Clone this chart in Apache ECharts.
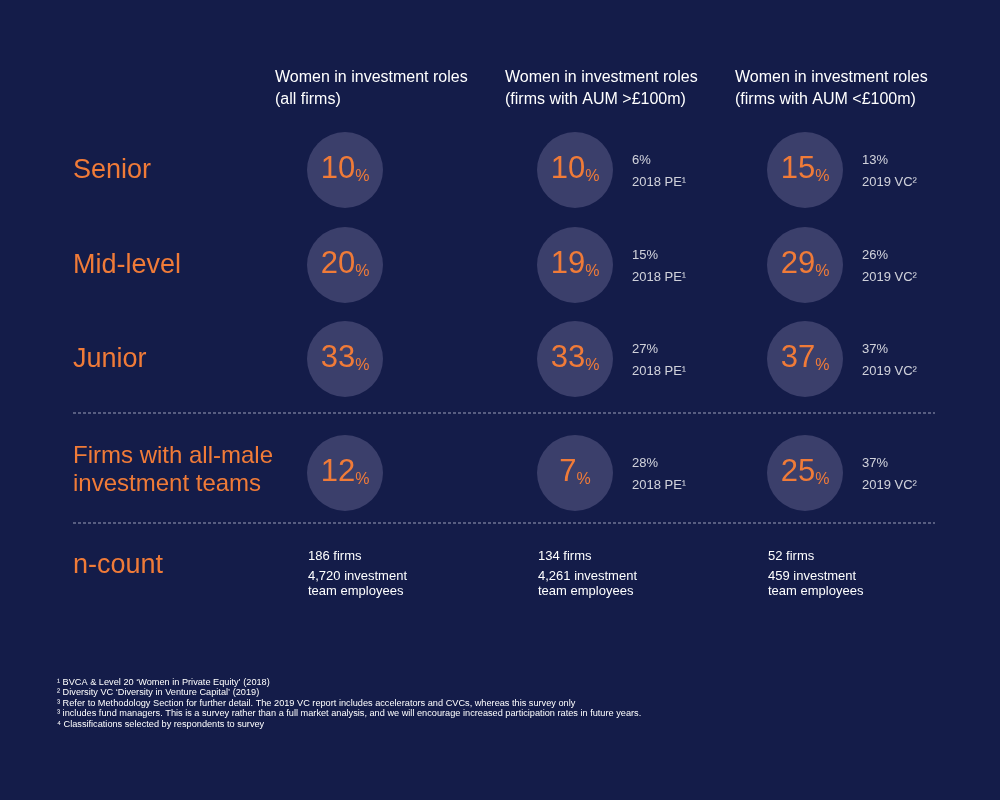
<!DOCTYPE html>
<html>
<head>
<meta charset="utf-8">
<script src="https://cdn.jsdelivr.net/npm/echarts@6/dist/echarts.min.js"></script>
<style>
  html, body { margin: 0; padding: 0; background: #141c49; }
  #chart { width: 1000px; height: 800px; }
</style>
</head>
<body>
<div id="chart"></div>
<script>
// column headers
var headerTitle = 'Women in investment roles';
var headerSub = ['(all firms)', '(firms with AUM >£100m)', '(firms with AUM <£100m)'];
// row labels
var rowLabels = ['Senior', 'Mid-level', 'Junior', 'Firms with all-male\ninvestment teams'];
// share of women (%) per row
var allFirms = [10, 20, 33, 12];
var aumAbove = [10, 19, 33, 7];
var aumBelow = [15, 29, 37, 25];
// benchmarks
var pe2018 = [6, 15, 27, 28];
var vc2019 = [13, 26, 37, 37];
// n-count
var firmCounts = [186, 134, 52];
var employeeCounts = ['4,720', '4,261', '459'];
var footnotes = [
  '\u00b9 BVCA & Level 20 \u2018Women in Private Equity\u2019 (2018)',
  '\u00b2 Diversity VC \u2018Diversity in Venture Capital\u2019 (2019)',
  '\u00b3 Refer to Methodology Section for further detail. The 2019 VC report includes accelerators and CVCs, whereas this survey only',
  '\u00b3 includes fund managers. This is a survey rather than a full market analysis, and we will encourage increased participation rates in future years.',
  '\u2074 Classifications selected by respondents to survey'
];

// layout
var colX = [345, 575, 805];
var rowY = [170, 265, 359, 473];
var ORANGE = '#f07b38';
var FONT = '"Liberation Sans", Arial, sans-serif';

var chart = echarts.init(document.getElementById('chart'));

var columns = [allFirms, aumAbove, aumBelow];
var circleData = [];
columns.forEach(function(col, c) {
  col.forEach(function(v, r) {
    circleData.push({ value: [colX[c], rowY[r], v] });
  });
});

// benchmark labels beside column 2 and 3
var benchData = [];
pe2018.forEach(function(v, r) {
  benchData.push({ value: [colX[1] + 57, rowY[r] + 1], label: { formatter: v + '%\n2018 PE\u00b9' } });
});
vc2019.forEach(function(v, r) {
  benchData.push({ value: [colX[2] + 57, rowY[r] + 1], label: { formatter: v + '%\n2019 VC\u00b2' } });
});

var graphics = [];
headerSub.forEach(function(sub, c) {
  graphics.push({
    type: 'text', left: colX[c] - 70, top: 67,
    style: { text: headerTitle + '\n' + sub, fill: '#ffffff', font: '16px ' + FONT, lineHeight: 22 }
  });
});
rowLabels.forEach(function(lbl, r) {
  var big = r < 3;
  graphics.push({
    type: 'text', x: 73, y: rowY[r] + (big ? 1 : -3),
    style: { text: lbl, fill: ORANGE, font: (big ? '27px ' : '24px ') + FONT, verticalAlign: 'middle', lineHeight: 28 }
  });
});
graphics.push({
  type: 'text', x: 73, y: 566,
  style: { text: 'n-count', fill: ORANGE, font: '27px ' + FONT, verticalAlign: 'middle' }
});
firmCounts.forEach(function(n, c) {
  graphics.push({
    type: 'text', x: colX[c] - 37, y: 550,
    style: { text: n + ' firms', fill: '#ffffff', font: '13px ' + FONT }
  });
  graphics.push({
    type: 'text', x: colX[c] - 37, y: 569,
    style: { text: employeeCounts[c] + ' investment\nteam employees', fill: '#ffffff', font: '13px ' + FONT, lineHeight: 15 }
  });
});
[413, 523].forEach(function(y) {
  graphics.push({
    type: 'line', shape: { x1: 73, y1: y, x2: 935, y2: y },
    style: { stroke: '#9a9eb8', lineWidth: 1, lineDash: [3, 2] }
  });
});
graphics.push({
  type: 'text', x: 57, y: 677,
  style: { text: footnotes.join('\n'), fill: '#ffffff', font: '9.2px ' + FONT, lineHeight: 10.5 }
});

var option = {
  backgroundColor: '#141c49',
  animation: false,
  grid: { left: 0, right: 0, top: 0, bottom: 0 },
  xAxis: { type: 'value', min: 0, max: 1000, show: false },
  yAxis: { type: 'value', min: 0, max: 800, inverse: true, show: false },
  graphic: graphics,
  series: [
    {
      type: 'scatter',
      symbol: 'circle',
      symbolSize: 76,
      itemStyle: { color: '#3b3f6b', opacity: 1 },
      label: {
        show: true,
        position: 'inside',
        formatter: function(p) { return '{n|' + p.value[2] + '}{p|%}'; },
        rich: {
          n: { fontSize: 31, color: ORANGE, fontFamily: FONT, verticalAlign: 'bottom', lineHeight: 30 },
          p: { fontSize: 16, color: ORANGE, fontFamily: FONT, verticalAlign: 'bottom', lineHeight: 26 }
        }
      },
      data: circleData
    },
    {
      type: 'scatter',
      symbolSize: 0,
      silent: true,
      label: {
        show: true,
        position: 'right',
        distance: 0,
        color: '#ffffff',
        fontSize: 13,
        fontFamily: FONT,
        lineHeight: 22
      },
      data: benchData
    }
  ]
};
chart.setOption(option);
</script>
</body>
</html>
